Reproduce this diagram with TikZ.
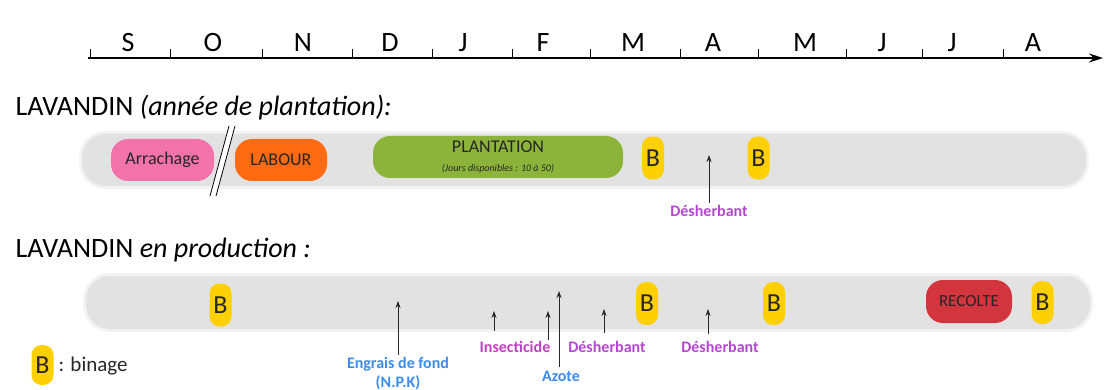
\documentclass[tikz,border=0pt]{standalone}
\usepackage{fontspec}
\setmainfont{Carlito}
\usetikzlibrary{arrows.meta}
\definecolor{bandgray}{HTML}{E2E2E2}
\definecolor{pinkbox}{HTML}{F272AA}
\definecolor{orangebox}{HTML}{FF6A12}
\definecolor{greenbox}{HTML}{8DB43A}
\definecolor{yellowbox}{HTML}{FFD000}
\definecolor{redbox}{HTML}{D3353F}
\definecolor{labpurple}{HTML}{B446D2}
\definecolor{labmagenta}{HTML}{C23EC2}
\definecolor{labblue}{HTML}{3D8BEA}
\tikzset{
  fs/.style={font=\fontsize{#1}{#1}\selectfont},
  month/.style={anchor=base, font=\fontsize{28}{28}\selectfont},
  band/.style={fill=bandgray, rounded corners=24pt},
  bandhalo/.style={fill=bandgray!45, rounded corners=27pt},
  opbox/.style={rounded corners=17pt, inner sep=0pt, minimum height=42pt, text=black!85, font=\fontsize{18}{18}\selectfont},
  bbox/.style={fill=yellowbox, rounded corners=10pt, inner sep=0pt, minimum width=22pt, minimum height=43pt, text=black!85, font=\fontsize{26}{26}\selectfont},
  lab/.style={anchor=base, font=\fontsize{16}{16}\selectfont\bfseries},
  arr/.style={-{Stealth[length=7pt,width=5pt]}, line width=0.9pt, black!85},
}
\begin{document}
\begin{tikzpicture}[x=1pt,y=-1pt]
\useasboundingbox (0,0) rectangle (1105,390);
% axis
\coordinate (axs) at (88,58);
\coordinate (axe) at (1103,58);
\draw[line width=1.4pt, -{Stealth[length=14pt,width=9pt]}] (axs) -- (axe);
\foreach \x in {90,170,262,352,432,512,590,680,758,846,922,1003}
  \draw[line width=1pt] (\x,58) -- (\x,49);
\foreach \x/\m [count=\i] in {128/S,213/O,303/N,390/D,463/J,543/F,633/M,713/A,805/M,882/J,952/J,1033/A}
  \node[month] (m\i) at (\x,52) {\m};
% titles
\node[anchor=base west, fs=28] (t1) at (12,116) {LAVANDIN \textit{(année de plantation):}};
\node[anchor=base west, fs=28] (t2) at (12,257) {LAVANDIN \textit{en production :}};
% band 1
\fill[bandhalo] (79,131) rectangle (1089,189);
\fill[band] (82,134) rectangle (1086,186);
\node[opbox, fill=pinkbox, minimum width=103pt] (arr) at (162.5,160) {Arrachage};
\node[opbox, fill=orangebox, minimum width=92pt] (lab) at (281,160) {LABOUR};
% break mark
\fill[white] (229,126) -- (235,126) -- (216,196) -- (210,196) -- cycle;
\draw[line width=0.8pt] (229,126) -- (210,196);
\draw[line width=0.8pt] (235,126) -- (216,196);
\node[opbox, fill=greenbox, minimum width=250pt, align=center] (plant) at (498,157)
  {PLANTATION\\[1pt]{\fontsize{10}{10}\selectfont\itshape (Jours disponibles : 10 à 50)}};
\node[bbox] (b1) at (653,158) {B};
\node[bbox] (b2) at (758.5,158) {B};
\node[lab, text=labpurple] (d1) at (709,216) {Désherbant};
\coordinate (d1b) at (709,203);
\coordinate (d1t) at (709,155);
\draw[arr] (d1b) -- (d1t);
% band 2
\fill[bandhalo] (83,273) rectangle (1093,332);
\fill[band] (86,276) rectangle (1090,329);
\node[bbox] (b3) at (220.5,305) {B};
\node[bbox] (b4) at (647,303.5) {B};
\node[bbox] (b5) at (774,303.5) {B};
\node[opbox, fill=redbox, minimum width=86pt, minimum height=43pt, font=\fontsize{17}{17}\selectfont] (rec) at (969,301.5) {RECOLTE};
\node[bbox] (b6) at (1042.5,302.5) {B};
% labels band 2
\node[lab, text=labblue, align=center] (eng) at (398,368) {Engrais de fond};
\node[lab, text=labblue] (npk) at (398,387) {(N.P.K)};
\node[lab, text=labmagenta] (ins) at (515,352) {Insecticide};
\node[lab, text=labblue] (azo) at (561,381) {Azote};
\node[lab, text=labpurple] (d2) at (607,352) {Désherbant};
\node[lab, text=labpurple] (d3) at (720,352) {Désherbant};
% arrows band 2
\coordinate (engb) at (398,355); \coordinate (engt) at (398,301);
\coordinate (insb) at (494,331); \coordinate (inst) at (494,311);
\coordinate (xb) at (548,340);  \coordinate (xt) at (548,311);
\coordinate (azb) at (559,367); \coordinate (azt) at (559,291);
\coordinate (d2b) at (604,333); \coordinate (d2t) at (604,309);
\coordinate (d3b) at (708,334); \coordinate (d3t) at (708,309);
\draw[arr] (engb) -- (engt);
\draw[arr] (insb) -- (inst);
\draw[arr] (xb) -- (xt);
\draw[arr] (azb) -- (azt);
\draw[arr] (d2b) -- (d2t);
\draw[arr] (d3b) -- (d3t);
% legend
\node[bbox, minimum height=40pt] (lb) at (42.5,365) {B};
\node[anchor=base west, fs=21, text=black!85] (lt) at (55,371) {: binage};
\end{tikzpicture}
\end{document}
